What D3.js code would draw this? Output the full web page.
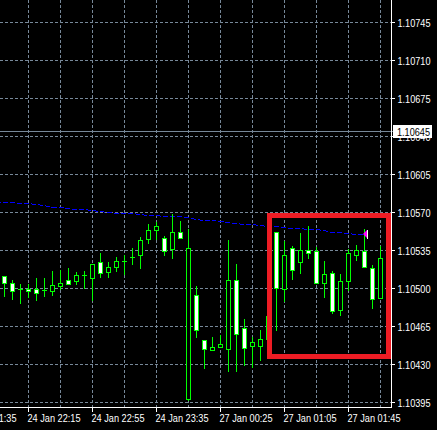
<!DOCTYPE html>
<html>
<head>
<meta charset="utf-8">
<script src="https://cdn.jsdelivr.net/npm/d3@7"></script>
<style>
    html, body { margin: 0; padding: 0; background: #000; }
    svg { display: block; }
</style>
</head>
<body>
<div id="chart"></div>
<script>
// 5 minute bars, index 0 = first visible bar on the left
const opens  = [1.10511, 1.10505, 1.10499, 1.10499, 1.10499, 1.10498, 1.10497, 1.10502, 1.10507, 1.10506,
                1.10512, 1.10509, 1.10524, 1.10515, 1.10519, 1.10525, 1.10529, 1.10530, 1.10545, 1.10553,
                1.10546, 1.10536, 1.10552, 1.10398, 1.10494, 1.10452, 1.10443, 1.10446, 1.10444, 1.10507,
                1.10463, 1.10447, 1.10447, 1.10453, 1.10552, 1.10499, 1.10537, 1.10524, 1.10535, 1.10534,
                1.10505, 1.10514, 1.10480, 1.10506, 1.10530, 1.10534, 1.10518, 1.10491, 1.10530];
const highs  = [1.10511, 1.10507, 1.10504, 1.10504, 1.10509, 1.10509, 1.10516, 1.10517, 1.10518, 1.10515,
                1.10516, 1.10522, 1.10532, 1.10524, 1.10529, 1.10530, 1.10537, 1.10547, 1.10559, 1.10561,
                1.10548, 1.10568, 1.10562, 1.10554, 1.10502, 1.10452, 1.10455, 1.10457, 1.10544, 1.10522,
                1.10471, 1.10455, 1.10461, 1.10474, 1.10552, 1.10543, 1.10539, 1.10551, 1.10557, 1.10538,
                1.10525, 1.10516, 1.10513, 1.10536, 1.10540, 1.10554, 1.10521, 1.10539, 1.10550];
const lows   = [1.10493, 1.10490, 1.10486, 1.10492, 1.10489, 1.10493, 1.10494, 1.10499, 1.10504, 1.10504,
                1.10500, 1.10489, 1.10510, 1.10510, 1.10516, 1.10513, 1.10522, 1.10518, 1.10541, 1.10545,
                1.10530, 1.10528, 1.10546, 1.10397, 1.10455, 1.10426, 1.10443, 1.10446, 1.10424, 1.10424,
                1.10429, 1.10427, 1.10434, 1.10453, 1.10461, 1.10488, 1.10508, 1.10514, 1.10528, 1.10505,
                1.10492, 1.10477, 1.10475, 1.10498, 1.10526, 1.10519, 1.10482, 1.10491, 1.10527];
const closes = [1.10505, 1.10497, 1.10499, 1.10497, 1.10495, 1.10498, 1.10503, 1.10505, 1.10504, 1.10512,
                1.10512, 1.10522, 1.10514, 1.10519, 1.10525, 1.10525, 1.10529, 1.10544, 1.10553, 1.10557,
                1.10534, 1.10552, 1.10546, 1.10537, 1.10461, 1.10444, 1.10446, 1.10448, 1.10507, 1.10458,
                1.10445, 1.10450, 1.10453, 1.10474, 1.10500, 1.10530, 1.10517, 1.10535, 1.10532, 1.10505,
                1.10513, 1.10479, 1.10506, 1.10532, 1.10535, 1.10519, 1.10490, 1.10528, 1.10547];

// dashed blue line, one value per bar, starting one bar left of the first visible bar
const lineValues = [1.10580, 1.10579, 1.10579, 1.10578, 1.10578, 1.10577, 1.10576, 1.10575, 1.10575, 1.10574,
                    1.10573, 1.10573, 1.10572, 1.10571, 1.10570, 1.10569, 1.10569, 1.10569, 1.10568, 1.10567,
                    1.10567, 1.10566, 1.10566, 1.10566, 1.10565, 1.10564, 1.10563, 1.10563, 1.10562, 1.10561,
                    1.10560, 1.10559, 1.10559, 1.10558, 1.10557, 1.10557, 1.10556, 1.10555, 1.10555, 1.10554,
                    1.10554, 1.10553, 1.10552, 1.10552, 1.10551, 1.10550, 1.10550];

const priceTicks = [1.10395, 1.10430, 1.10465, 1.10500, 1.10535, 1.10570, 1.10605, 1.10640, 1.10675, 1.10710, 1.10745];
const timeTickBars = [-5, 3, 11, 19, 27, 35, 43];
const timeLabels = ["24 Jan 21:35", "24 Jan 22:15", "24 Jan 22:55", "24 Jan 23:35",
                    "27 Jan 00:25", "27 Jan 01:05", "27 Jan 01:45"];
const bidPrice = 1.10645;
// red box drawn over the last bars
const boxBars = [33, 48];
const boxPrices = [1.10567, 1.10437];
// magenta marker at the end of the blue line
const markerBar = 45;
const markerPrice = 1.10550;

const W = 437, H = 430;
const plotW = 391, plotH = 407;
const font = '"Liberation Sans", Arial, sans-serif';

const svg = d3.select("#chart").append("svg")
    .attr("width", W)
    .attr("height", H)
    .style("background", "#000");

const x = d3.scaleLinear().domain([0, 48]).range([4, 388]);
const y = d3.scaleLinear().domain([1.10395, 1.10745]).range([402, 22]);
const ry = p => Math.round(y(p));

const plot = svg.append("g");

// grid
const gridColor = "#778899";
plot.selectAll(".hgrid").data(priceTicks).enter().append("line")
    .attr("x1", 0).attr("x2", plotW)
    .attr("y1", d => ry(d) + 0.5).attr("y2", d => ry(d) + 0.5)
    .attr("stroke", gridColor)
    .attr("stroke-dasharray", "3,2");

plot.selectAll(".vgrid").data(d3.range(-1, 49, 4)).enter().append("line")
    .attr("x1", d => x(d) + 0.5).attr("x2", d => x(d) + 0.5)
    .attr("y1", 0).attr("y2", plotH)
    .attr("stroke", gridColor)
    .attr("stroke-dasharray", "3,2");

// bid line
plot.append("line")
    .attr("x1", 0).attr("x2", 394)
    .attr("y1", ry(bidPrice) + 0.5).attr("y2", ry(bidPrice) + 0.5)
    .attr("stroke", gridColor);

// blue dashed line
const lineGen = d3.line()
    .x((d, i) => x(i - 1))
    .y(d => ry(d) + 0.5);
plot.append("path")
    .datum(lineValues)
    .attr("d", lineGen)
    .attr("fill", "none")
    .attr("stroke", "#0000ff")
    .attr("stroke-dasharray", "5,2")
    .attr("shape-rendering", "crispEdges");

// candles
const green = "#00ff00";
const bars = opens.map((o, i) => ({ i, o, h: highs[i], l: lows[i], c: closes[i] }));

plot.selectAll(".wick").data(bars).enter().append("line")
    .attr("x1", d => x(d.i) + 0.5).attr("x2", d => x(d.i) + 0.5)
    .attr("y1", d => ry(d.h)).attr("y2", d => ry(d.l) + 1)
    .attr("stroke", green);

plot.selectAll(".body").data(bars.filter(d => ry(d.o) !== ry(d.c))).enter().append("rect")
    .attr("x", d => x(d.i) - 1.5)
    .attr("y", d => Math.min(ry(d.o), ry(d.c)) + 0.5)
    .attr("width", 4)
    .attr("height", d => Math.abs(ry(d.o) - ry(d.c)))
    .attr("fill", d => d.c < d.o ? "#fff" : "#000")
    .attr("stroke", green);

plot.selectAll(".doji").data(bars.filter(d => ry(d.o) === ry(d.c))).enter().append("line")
    .attr("x1", d => x(d.i) - 2).attr("x2", d => x(d.i) + 3)
    .attr("y1", d => ry(d.c) + 0.5).attr("y2", d => ry(d.c) + 0.5)
    .attr("stroke", green);

// magenta marker
const mx = x(markerBar) - 1, my = ry(markerPrice);
plot.append("path")
    .attr("d", `M${mx},${my}L${mx + 4},${my - 4}L${mx + 4},${my + 4}Z`)
    .attr("fill", "#ff00ff");
plot.append("line")
    .attr("x1", mx + 4.5).attr("x2", mx + 4.5)
    .attr("y1", my - 4).attr("y2", my + 5)
    .attr("stroke", "#fff");

// red box
svg.append("rect")
    .attr("x", x(boxBars[0]) + 1.5)
    .attr("y", ry(boxPrices[0]) + 0.5)
    .attr("width", x(boxBars[1]) - x(boxBars[0]) - 1)
    .attr("height", ry(boxPrices[1]) - ry(boxPrices[0]))
    .attr("fill", "none")
    .attr("stroke", "#ed1c24")
    .attr("stroke-width", 5);

// axes
svg.append("line")
    .attr("x1", plotW + 0.5).attr("x2", plotW + 0.5)
    .attr("y1", 0).attr("y2", plotH + 1)
    .attr("stroke", "#fff");
svg.append("line")
    .attr("x1", 0).attr("x2", plotW + 1)
    .attr("y1", plotH + 0.5).attr("y2", plotH + 0.5)
    .attr("stroke", "#fff");

const yAxis = svg.append("g")
    .attr("transform", `translate(${plotW},0)`)
    .call(d3.axisRight(y).tickValues(priceTicks).tickSize(4).tickFormat(d3.format(".5f")));
yAxis.select(".domain").remove();
yAxis.selectAll("line").attr("stroke", "#fff");
yAxis.selectAll("text")
    .attr("fill", "#fff")
    .attr("x", 6.5)
    .attr("dy", "0.45em")
    .attr("textLength", 33)
    .attr("lengthAdjust", "spacingAndGlyphs")
    .style("font-family", font)
    .style("font-size", "10.5px");

const xAxis = svg.append("g")
    .attr("transform", `translate(0,${plotH})`)
    .call(d3.axisBottom(x).tickValues(timeTickBars).tickSize(5).tickFormat((d, i) => timeLabels[i]));
xAxis.select(".domain").remove();
xAxis.selectAll("line").attr("stroke", "#fff");
xAxis.selectAll("text")
    .attr("fill", "#fff")
    .attr("text-anchor", "start")
    .attr("x", -1)
    .attr("y", 15)
    .attr("dy", null)
    .attr("textLength", 53)
    .attr("lengthAdjust", "spacingAndGlyphs")
    .style("font-family", font)
    .style("font-size", "10.5px");

// current price label
const by = ry(bidPrice);
svg.append("rect")
    .attr("x", plotW + 2).attr("y", by - 6)
    .attr("width", 39).attr("height", 13)
    .attr("fill", "#fff");
svg.append("text")
    .attr("x", plotW + 6).attr("y", by + 4.5)
    .attr("fill", "#000")
    .attr("textLength", 33)
    .attr("lengthAdjust", "spacingAndGlyphs")
    .style("font-family", font)
    .style("font-size", "10.5px")
    .text(d3.format(".5f")(bidPrice));
</script>
</body>
</html>
